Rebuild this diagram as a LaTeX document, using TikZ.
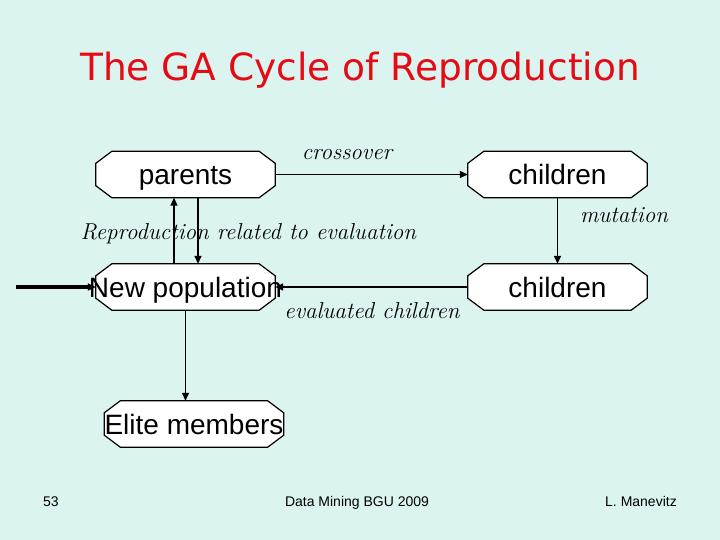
\documentclass[tikz,border=0pt]{standalone}
\usepackage{fontspec}
\usepackage{xcolor}
\usetikzlibrary{arrows.meta,backgrounds}
\newfontfamily\arialfont{Liberation Sans}
\newfontfamily\titlefont{DejaVu Sans}
\definecolor{slidebg}{RGB}{220,244,240}
\definecolor{titlered}{RGB}{230,10,20}
% octagonal outline behind a named box
\newcommand{\chamferbox}[1]{%
  \filldraw[boxline] ([xshift=16pt]#1.north west) -- ([xshift=-16pt]#1.north east)
    -- ([yshift=-12pt]#1.north east) -- ([yshift=12pt]#1.south east)
    -- ([xshift=-16pt]#1.south east) -- ([xshift=16pt]#1.south west)
    -- ([yshift=12pt]#1.south west) -- ([yshift=-12pt]#1.north west) -- cycle;}

\begin{document}
\begin{tikzpicture}[x=1pt,y=-1pt,
    stagebox/.style={rectangle, minimum width=179pt, minimum height=46pt, inner sep=0pt,
      text height=20pt, text depth=0pt,
      font=\arialfont\fontsize{28}{30}\selectfont},
    boxline/.style={draw, fill=white, line width=1.2pt},
    oplabel/.style={font=\itshape\fontsize{23}{26}\selectfont},
    flow/.style={line width=1.5pt, -{Triangle[length=8pt,width=7pt]}},
    footer/.style={text height=10pt, text depth=3pt,
      font=\arialfont\fontsize{14}{16}\selectfont}]
  \useasboundingbox (0,0) rectangle (720,540);
  \node[titlered, font=\titlefont\fontsize{37.5}{42}\selectfont] (title) at (360,70) {The GA Cycle of Reproduction};

  % Boxes of the cycle
  \node[stagebox] (parents) at (185.5,174.5) {\makebox[0pt]{parents}};
  \node[stagebox] (kids) at (557.5,174.5) {\makebox[0pt]{children}};
  \node[stagebox] (mutkids) at (557.5,287) {\makebox[0pt]{children}};
  \node[stagebox] (newpop) at (185.5,287) {\makebox[0pt]{New population}};
  \node[stagebox] (elite) at (194,424) {\makebox[0pt]{Elite members}};
  \coordinate (start) at (16,287);
  \begin{scope}[on background layer]
    \fill[slidebg] (0,0) rectangle (720,540);
    \chamferbox{parents}
    \chamferbox{kids}
    \chamferbox{mutkids}
    \chamferbox{newpop}
    \chamferbox{elite}
  \end{scope}

  % Arrows
  \draw[flow] (parents.east) -- (kids.west);
  \draw[flow] (kids.south) -- (mutkids.north);
  \draw[flow] (mutkids.west) -- (newpop.east);
  \draw[flow] (newpop.north -| 174,0) -- (parents.south -| 174,0);
  \draw[flow] (parents.south -| 198,0) -- (newpop.north -| 198,0);
  \draw[flow] (newpop.south) -- (newpop.south |- elite.north);
  \draw[flow, line width=3.5pt] (start) -- (newpop.west);

  % Operator labels
  \node[oplabel] (xlab) at (347,155) {crossover};
  \node[oplabel] (mlab) at (624,215) {mutation};
  \node[oplabel, anchor=west] (rlab) at (77,234) {Reproduction related to evaluation};
  \node[oplabel] (elab) at (372,311) {evaluated children};

  % Footer
  \node[footer] (num) at (51,503) {53};
  \node[footer] (course) at (357,503) {Data Mining BGU 2009};
  \node[footer] (author) at (641,503) {L. Manevitz};
\end{tikzpicture}
\end{document}
